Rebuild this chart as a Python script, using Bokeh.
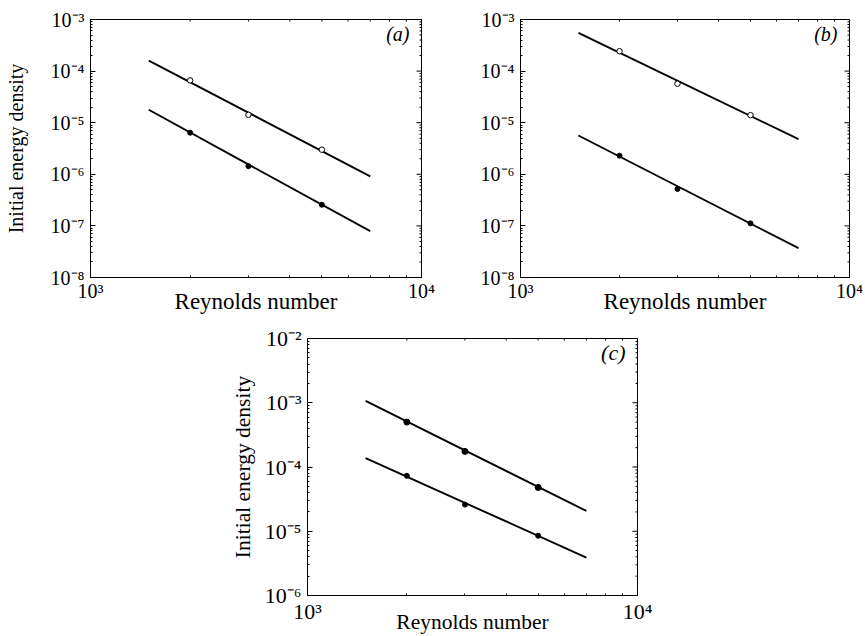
import math
from bokeh.plotting import figure
from bokeh.models import FixedTicker, CustomJSTickFormatter, Label, Spacer
from bokeh.layouts import column, row
from bokeh.embed import file_html
from bokeh.resources import INLINE

# ---------------- data ----------------
re_points = [2000, 3000, 5000]
fit_re = [1500, 7000]

a_open = [6.6e-5, 1.42e-5, 3.0e-6]
a_filled = [6.4e-6, 1.44e-6, 2.57e-7]
a_open_fit = [1.6e-4, 9.1e-7]
a_filled_fit = [1.78e-5, 7.9e-8]

b_open = [2.43e-4, 5.7e-5, 1.4e-5]
b_filled = [2.3e-6, 5.2e-7, 1.12e-7]
b_open_fit = [5.5e-4, 4.8e-6]
b_filled_fit = [5.65e-6, 3.7e-8]

c_upper = [5.0e-4, 1.75e-4, 4.8e-5]
c_lower = [7.3e-5, 2.6e-5, 8.5e-6]
c_upper_fit = [1.07e-3, 2.07e-5]
c_lower_fit = [1.37e-4, 3.9e-6]

x_ticks = [1e3, 1e4]
y_ticks_ab = [1e-8, 1e-7, 1e-6, 1e-5, 1e-4, 1e-3]
y_ticks_c = [1e-6, 1e-5, 1e-4, 1e-3, 1e-2]

x_label = "Reynolds number"
y_label = "Initial energy density"

FONT = "Liberation Serif"

SUP_JS = """
const m = {'-':'\u207B','0':'\u2070','1':'\u00B9','2':'\u00B2','3':'\u00B3',
           '4':'\u2074','5':'\u2075','6':'\u2076','7':'\u2077','8':'\u2078','9':'\u2079'};
const e = Math.round(Math.log10(tick));
return '10' + String(e).split('').map(c => m[c]).join('');
"""


def minors(ticks):
    out = []
    for t in ticks[:-1]:
        out += [t * k for k in range(2, 10)]
    return out


def style_axis(ax, ticks, tick_size):
    ax.ticker = FixedTicker(ticks=ticks, minor_ticks=minors(ticks))
    ax.major_tick_in = 5
    ax.major_tick_out = 0
    ax.minor_tick_in = 2
    ax.minor_tick_out = 0
    ax.axis_line_color = "black"
    ax.major_tick_line_color = "black"
    ax.minor_tick_line_color = "black"
    ax.formatter = CustomJSTickFormatter(code=SUP_JS)
    ax.major_label_text_font = FONT
    ax.major_label_text_font_size = tick_size
    ax.major_label_text_color = "black"
    ax.axis_label_text_font = FONT
    ax.axis_label_text_font_style = "normal"
    ax.axis_label_text_color = "black"


def make_panel(width, height, yr, yticks, left, right, top, bottom,
               letter, show_ylabel, ylabel_standoff, xtick_standoff,
               xlabel_standoff, tick_size, xlab_size, ylab_size):
    p = figure(width=width, height=height, x_axis_type="log", y_axis_type="log",
               x_range=(1e3, 1e4), y_range=yr,
               min_border_left=left, min_border_right=right,
               min_border_top=top, min_border_bottom=bottom,
               output_backend="svg", toolbar_location=None)
    p.grid.visible = False
    p.outline_line_color = "black"
    p.outline_line_alpha = 1.0
    p.background_fill_color = "white"
    p.border_fill_color = "white"

    style_axis(p.xaxis[0], x_ticks, tick_size)
    style_axis(p.yaxis[0], yticks, tick_size)
    p.xaxis[0].axis_label = x_label
    p.xaxis[0].axis_label_text_font_size = xlab_size
    p.xaxis[0].major_label_standoff = xtick_standoff
    p.xaxis[0].axis_label_standoff = xlabel_standoff
    p.yaxis[0].major_label_standoff = 6
    if show_ylabel:
        p.yaxis[0].axis_label = y_label
        p.yaxis[0].axis_label_text_font_size = ylab_size
        p.yaxis[0].axis_label_standoff = ylabel_standoff

    # inward ticks on the right and top edges of the frame (half clipped dashes)
    x_end, y_end = x_ticks[-1], yr[1]
    p.scatter([x_end] * len(yticks), yticks, marker="dash", size=10,
              line_color="black", line_width=1)
    ym = minors(yticks)
    p.scatter([x_end] * len(ym), ym, marker="dash", size=4,
              line_color="black", line_width=1)
    p.scatter(x_ticks, [y_end] * len(x_ticks), marker="dash", size=10,
              angle=math.pi / 2, line_color="black", line_width=1)
    xm = minors(x_ticks)
    p.scatter(xm, [y_end] * len(xm), marker="dash", size=4,
              angle=math.pi / 2, line_color="black", line_width=1)

    p.add_layout(Label(x=x_end, y=y_end, x_offset=-12, y_offset=-14,
                       text="(" + letter + ")", text_align="right",
                       text_baseline="middle", text_font=FONT,
                       text_font_size=tick_size, text_font_style="italic",
                       text_color="black"))
    return p


# ---------- panel (a) ----------
pa = make_panel(440, 319, (1e-8, 1e-3), y_ticks_ab, 90, 19, 19, 42, "a",
                True, 21, 2, -16, "20px", "23px", "20px")
pa.line(fit_re, a_open_fit, line_color="black", line_width=1.9)
pa.line(fit_re, a_filled_fit, line_color="black", line_width=1.9)
pa.scatter(re_points, a_open, marker="circle", size=5.5, fill_color="white",
           line_color="black", line_width=1)
pa.scatter(re_points, a_filled, marker="circle", size=5, fill_color="black",
           line_color="black")

# ---------- panel (b) ----------
pb = make_panel(425, 319, (1e-8, 1e-3), y_ticks_ab, 80, 16, 19, 42, "b",
                False, 0, 2, -16, "20px", "23px", "20px")
pb.line(fit_re, b_open_fit, line_color="black", line_width=1.9)
pb.line(fit_re, b_filled_fit, line_color="black", line_width=1.9)
pb.scatter(re_points, b_open, marker="circle", size=5.5, fill_color="white",
           line_color="black", line_width=1)
pb.scatter(re_points, b_filled, marker="circle", size=5, fill_color="black",
           line_color="black")

# ---------- panel (c) ----------
pc = make_panel(440, 317, (1e-6, 1e-2), y_ticks_c, 90, 20, 19, 41, "c",
                True, 7, 3, -17, "22px", "21.5px", "21.5px")
pc.line(fit_re, c_upper_fit, line_color="black", line_width=1.9)
pc.line(fit_re, c_lower_fit, line_color="black", line_width=1.9)
pc.scatter(re_points, c_upper, marker="circle", size=6, fill_color="black",
           line_color="black")
pc.scatter(re_points, c_lower, marker="circle", size=5, fill_color="black",
           line_color="black")

layout = column(row(pa, pb), row(Spacer(width=217, height=317), pc))

open("out.html", "w").write(file_html(layout, INLINE))
